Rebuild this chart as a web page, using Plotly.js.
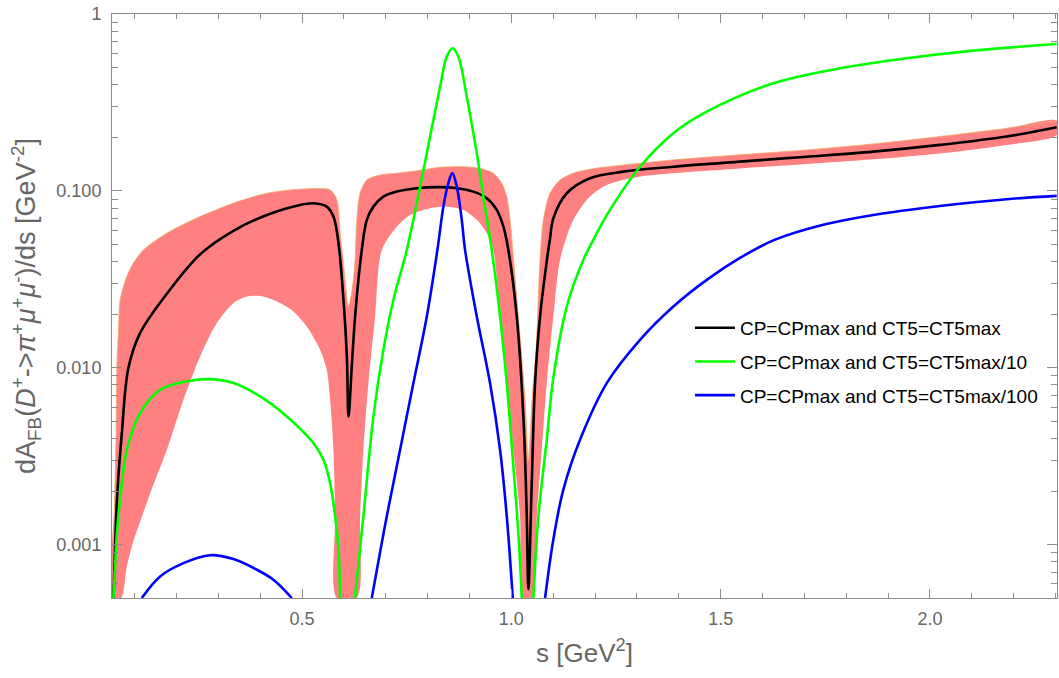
<!DOCTYPE html>
<html><head><meta charset="utf-8">
<script src="https://cdn.plot.ly/plotly-3.0.1.min.js"></script>
<style>html,body{margin:0;padding:0;background:#fff}#chart{width:1059px;height:678px}</style>
</head><body><div id="chart"></div>
<script>
// ---- data (s in GeV^2, dA_FB/ds in GeV^-2) ----
const blackS = [0.0495,0.0535,0.059,0.0695,0.0853,0.113,0.177,0.2565,0.336,0.416,0.495,0.527,0.559,0.575,0.587,0.599,0.607,0.611,0.6188,0.6267,0.6427,0.6547,0.6704,0.6943,0.7263,0.7741,0.8297,0.8696,0.9092,0.9413,0.9651,0.981,0.9928,1.0129,1.0287,1.0368,1.0406,1.0487,1.0566,1.0685,1.0845,1.0924,1.1003,1.1323,1.188,1.2675,1.387,1.546,1.7055,1.8646,2.024,2.183,2.3026];
const blackY = [0.0005,0.00101,0.0020,0.00428,0.010,0.0157,0.0262,0.0438,0.0595,0.0731,0.0833,0.0852,0.0815,0.0716,0.0506,0.0242,0.0116,0.0053,0.0102,0.0195,0.0464,0.0686,0.0815,0.0929,0.0991,0.1036,0.105,0.1036,0.0991,0.091,0.0781,0.0628,0.0464,0.0195,0.0053,0.00145,0.00056,0.00223,0.0082,0.0195,0.040,0.054,0.070,0.097,0.118,0.1285,0.137,0.1465,0.156,0.1667,0.182,0.203,0.229];

const greenS = [0.0494,0.0535,0.0576,0.0654,0.0814,0.1132,0.161,0.2247,0.2804,0.336,0.3998,0.4636,0.527,0.551,0.567,0.579,0.587,0.591,null,
  0.6265,0.6465,0.6704,0.6943,0.7182,0.7502,0.782,0.8058,0.8297,0.8457,0.860,0.8734,0.8935,0.9174,0.9331,0.9532,0.973,0.989,1.0048,1.0167,1.0249,null,
  1.0525,1.0645,1.0845,1.1003,1.1323,1.172,1.1958,1.2279,1.3074,1.387,1.4667,1.6257,1.785,1.944,2.1034,2.3026];
const greenY = [0.0005,0.000755,0.00116,0.0018,0.00344,0.00555,0.00751,0.00838,0.00863,0.0082,0.00689,0.00531,0.00376,0.00302,0.00223,0.00145,0.00094,0.0005,null,
  0.0005,0.00145,0.0053,0.01264,0.0242,0.0464,0.1057,0.203,0.388,0.574,0.640,0.574,0.341,0.163,0.0929,0.0464,0.0195,0.0082,0.00277,0.00116,0.0005,null,
  0.0005,0.00145,0.00392,0.0088,0.0222,0.0408,0.0529,0.073,0.137,0.212,0.2805,0.406,0.493,0.562,0.621,0.677];

const blueS = [0.1173,0.161,0.2166,0.2804,0.336,0.392,0.4316,0.4755,null,
  0.6666,0.7024,0.7342,0.766,0.798,0.8233,0.8376,0.8495,0.859,0.8696,0.8815,0.8894,0.9174,0.949,0.973,0.989,1.0033,null,
  1.0805,1.1003,1.1242,1.164,1.2279,1.3074,1.387,1.4667,1.546,1.6257,1.745,1.8646,2.024,2.183,2.3026];
const blueY = [0.0005,0.000662,0.000787,0.000873,0.00083,0.000723,0.000634,0.0005,null,
  0.0005,0.00145,0.00344,0.0082,0.0195,0.0464,0.0815,0.1105,0.126,0.1057,0.0686,0.0464,0.0195,0.0082,0.00344,0.00145,0.0005,null,
  0.0005,0.00107,0.00205,0.00392,0.0082,0.0144,0.0222,0.0314,0.0418,0.0525,0.0643,0.0731,0.0822,0.0898,0.0937];

const bandUpperS = [0.047,0.0523,0.0559,0.0576,0.0614,0.0654,0.0814,0.0972,0.1211,0.177,0.2565,0.336,0.416,0.4953,0.567,0.583,0.591,0.598,0.605,0.6107,0.6195,0.6267,0.6308,0.6386,0.6547,0.6864,0.7263,0.7741,0.8297,0.8853,0.9252,0.957,0.977,0.989,0.9969,1.0033,1.0112,1.0232,1.0327,1.0406,1.0494,1.059,1.0685,1.0764,1.0924,1.1163,1.148,1.1877,1.2675,1.387,1.546,1.7055,1.8646,2.024,2.183,2.3026];
const bandUpperY = [0.0005,0.0018,0.0043,0.0102,0.0158,0.0242,0.0328,0.0391,0.0464,0.0577,0.0716,0.0853,0.097,0.1023,0.1013,0.089,0.0577,0.0408,0.0276,0.0222,0.0276,0.0408,0.0686,0.097,0.1153,0.123,0.126,0.130,0.136,0.137,0.134,0.126,0.1105,0.0929,0.0686,0.0464,0.0276,0.01264,0.0066,0.003,0.0066,0.01264,0.0408,0.0686,0.097,0.1153,0.126,0.1326,0.140,0.1497,0.160,0.1705,0.1843,0.203,0.226,0.2496];
const bandLowerS = [0.047,0.0678,0.0814,0.0972,0.1132,0.137,0.177,0.2166,0.2565,0.2964,0.336,0.368,0.3998,0.4316,0.4746,0.5113,0.543,0.559,0.567,0.575,0.579,0.583,0.6307,0.6386,0.6465,0.6585,0.6745,0.6905,0.7263,0.758,0.8058,0.8457,0.8853,0.9174,0.9413,0.957,0.973,0.989,1.0048,1.0208,1.0287,1.0487,1.0607,1.0726,1.0845,1.1003,1.1163,1.148,1.1877,1.2279,1.3074,1.387,1.546,1.7055,1.8646,2.024,2.183,2.3026];
const bandLowerY = [0.0005,0.0005,0.000755,0.00105,0.00135,0.00195,0.00344,0.0066,0.0116,0.0179,0.0232,0.0253,0.0255,0.0242,0.0213,0.0171,0.01264,0.00975,0.0066,0.00344,0.00145,0.0005,0.0005,0.00145,0.00344,0.0082,0.0195,0.0464,0.0628,0.0731,0.0798,0.0815,0.0781,0.0686,0.0577,0.0464,0.0195,0.0082,0.00344,0.00145,0.0005,0.0005,0.00145,0.00344,0.0082,0.0195,0.0408,0.0686,0.0929,0.108,0.1205,0.126,0.134,0.142,0.151,0.163,0.182,0.207];

const seriesNames = ['CP=CPmax and CT5=CT5max','CP=CPmax and CT5=CT5max/10','CP=CPmax and CT5=CT5max/100'];
const yTickVals = [0.001,0.01,0.1,1];
const yTickText = ['0.001','0.010','0.100','1'];

// minor log ticks 2..9 per decade
const yMinor = [];
for (let d = -4; d <= -1; d++) for (let k = 2; k <= 9; k++) { const v = k * Math.pow(10, d); if (v >= 0.0005 && v < 1) yMinor.push(v); }

const bandPolyS = bandUpperS.concat(bandLowerS.slice().reverse());
const bandPolyY = bandUpperY.concat(bandLowerY.slice().reverse());

const FONT = 'Liberation Sans, Arial, Helvetica, sans-serif';
const AX = '#8c8c8c';
const LBL = '#666666';
const SM = 1.0;
const SMB = 0.8;

const traces = [
  {x: bandPolyS, y: bandPolyY, mode: 'lines', fill: 'toself', fillcolor: 'rgb(255,128,128)', line: {width: 0, shape: 'spline', smoothing: SMB}, showlegend: false, hoverinfo: 'skip'},
  {x: bandUpperS, y: bandUpperY, mode: 'lines', line: {width: 1, color: 'rgba(240,170,110,0.85)', shape: 'spline', smoothing: SMB}, showlegend: false, hoverinfo: 'skip'},
  {x: blackS, y: blackY, mode: 'lines', name: seriesNames[0], line: {color: '#000000', width: 2.6, shape: 'spline', smoothing: SM}, legendgroup: 'a'},
  {x: greenS, y: greenY, mode: 'lines', name: seriesNames[1], line: {color: '#00ff00', width: 2.6, shape: 'spline', smoothing: SM}, connectgaps: false, legendgroup: 'b'},
  {x: blueS, y: blueY, mode: 'lines', name: seriesNames[2], line: {color: '#0000ff', width: 2.6, shape: 'spline', smoothing: SM}, connectgaps: false, legendgroup: 'c'}
];

const layout = {
  width: 1059, height: 678,
  margin: {l: 112, r: 2, t: 14, b: 80},
  paper_bgcolor: '#ffffff', plot_bgcolor: '#ffffff',
  font: {family: FONT, color: LBL},
  showlegend: true,
  legend: {x: 0.6116, y: 0.495, xanchor: 'left', yanchor: 'top', bgcolor: 'rgba(0,0,0,0)', itemwidth: 40,
           font: {size: 19, color: '#000000', family: FONT}, tracegroupgap: 6, traceorder: 'grouped'},
  xaxis: {
    range: [0.046, 2.3034], showgrid: false, zeroline: false,
    showline: true, linecolor: AX, linewidth: 1, mirror: 'allticks',
    ticks: 'inside', ticklen: 9, tickcolor: AX, tickwidth: 1,
    tick0: 0, dtick: 0.5, tickformat: '.1f',
    tickfont: {size: 18, color: LBL}, ticklabelstandoff: 4,
    minor: {dtick: 0.1, tick0: 0, ticks: 'inside', ticklen: 5, tickcolor: AX, showgrid: false},
    title: {text: 's [GeV<sup>2</sup>]', font: {size: 26, color: LBL}, standoff: 16}
  },
  yaxis: {
    type: 'log', range: [Math.log10(0.0005), 0], showgrid: false, zeroline: false,
    showline: true, linecolor: AX, linewidth: 1, mirror: 'allticks',
    ticks: 'inside', ticklen: 10, tickcolor: AX, tickwidth: 1,
    tickmode: 'array', tickvals: yTickVals, ticktext: yTickText,
    tickfont: {size: 18, color: LBL}, ticklabelstandoff: 6,
    minor: {tickmode: 'array', tickvals: yMinor, ticks: 'inside', ticklen: 6, tickcolor: AX, showgrid: false},
    title: {text: 'dA<sub>FB</sub>(<i>D</i><sup>+</sup>-><i>π</i><sup>+</sup><i>μ</i><sup>+</sup><i>μ</i><sup>-</sup>)/ds [GeV<sup>-2</sup>]', font: {size: 27, color: LBL}, standoff: 12}
  }
};

Plotly.newPlot('chart', traces, layout, {displayModeBar: false, staticPlot: true});
</script>
</body></html>
